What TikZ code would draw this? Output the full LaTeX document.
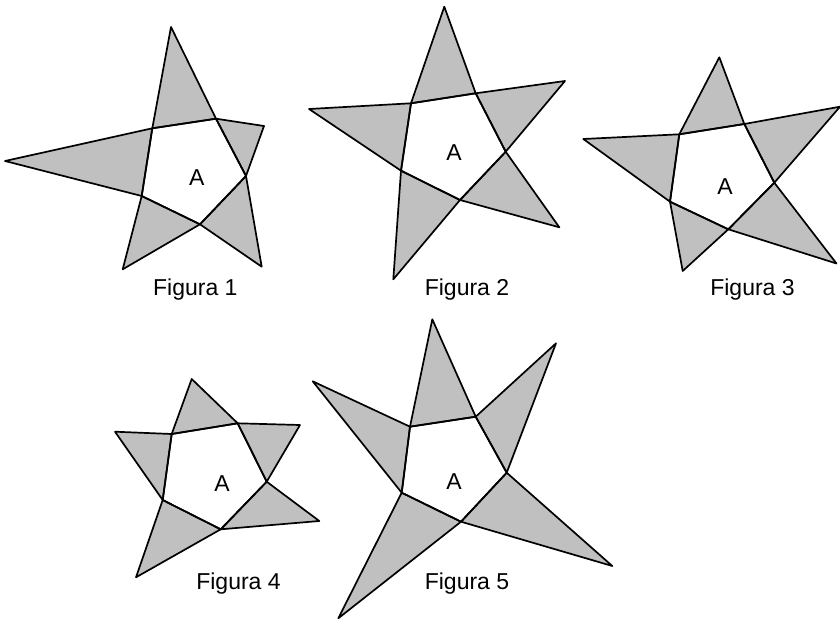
\documentclass[tikz,border=0pt]{standalone}
\usepackage{fontspec}
\setmainfont{Liberation Sans}
\definecolor{shadefill}{RGB}{192,192,192}
\tikzset{
  tri/.style={fill=shadefill, draw=black, line width=1.7pt, line join=round},
  pent/.style={draw=black, line width=1.7pt, line join=round},
  lbl/.style={inner sep=0pt, font=\fontsize{23}{27}\selectfont},
  figcaption/.style={inner sep=0pt, anchor=base, font=\fontsize{23}{27}\selectfont}
}
\newcommand\drawpentastar[1]{%
  \draw[tri] (#1T) -- (#1pa) -- (#1pb) -- cycle;
  \draw[tri] (#1R) -- (#1pb) -- (#1pc) -- cycle;
  \draw[tri] (#1D) -- (#1pc) -- (#1pd) -- cycle;
  \draw[tri] (#1E) -- (#1pd) -- (#1pe) -- cycle;
  \draw[tri] (#1L) -- (#1pe) -- (#1pa) -- cycle;
  \draw[pent] (#1pa) -- (#1pb) -- (#1pc) -- (#1pd) -- (#1pe) -- cycle;
}
\begin{document}
\begin{tikzpicture}[x=1pt,y=-1pt]
\useasboundingbox (0,0) rectangle (840,621);
% Figura 1
\coordinate (aT) at (171,27);
\coordinate (aR) at (264,126);
\coordinate (aD) at (261.7,266.7);
\coordinate (aE) at (122.7,269.3);
\coordinate (aL) at (5,161);
\coordinate (apa) at (152.3,128.3);
\coordinate (apb) at (216,118.7);
\coordinate (apc) at (246,176);
\coordinate (apd) at (200,224.3);
\coordinate (ape) at (141.7,196);
\drawpentastar{a}
\node[lbl] (aA) at (196.7,177.3) {A};
\node[figcaption] (acap) at (195.3,295) {Figura 1};
% Figura 2
\coordinate (bT) at (444.3,6.7);
\coordinate (bR) at (565,81);
\coordinate (bD) at (559.3,227.3);
\coordinate (bE) at (393.3,279.3);
\coordinate (bL) at (309,109);
\coordinate (bpa) at (411,103.3);
\coordinate (bpb) at (475.7,93.3);
\coordinate (bpc) at (505.7,151.7);
\coordinate (bpd) at (460,200);
\coordinate (bpe) at (401,170.7);
\drawpentastar{b}
\node[lbl] (bA) at (454,153) {A};
\node[figcaption] (bcap) at (467,295) {Figura 2};
% Figura 3
\coordinate (cT) at (719.3,57.3);
\coordinate (cR) at (840,106.7);
\coordinate (cD) at (836.5,263.5);
\coordinate (cE) at (682.7,271);
\coordinate (cL) at (583.3,139);
\coordinate (cpa) at (679.3,134.3);
\coordinate (cpb) at (744.3,124);
\coordinate (cpc) at (774.3,182.7);
\coordinate (cpd) at (728.3,229.3);
\coordinate (cpe) at (670,201.7);
\drawpentastar{c}
\node[lbl] (cA) at (725,186.7) {A};
\node[figcaption] (ccap) at (752.5,295) {Figura 3};
% Figura 4
\coordinate (dT) at (191.7,379);
\coordinate (dR) at (300,425);
\coordinate (dD) at (319.3,521);
\coordinate (dE) at (136,577.3);
\coordinate (dL) at (115,431.7);
\coordinate (dpa) at (171.7,434);
\coordinate (dpb) at (237.7,423.3);
\coordinate (dpc) at (266.7,481.7);
\coordinate (dpd) at (220.7,529.3);
\coordinate (dpe) at (162.7,500);
\drawpentastar{d}
\node[lbl] (dA) at (222,483.5) {A};
\node[figcaption] (dcap) at (238.5,589.5) {Figura 4};
% Figura 5
\coordinate (eT) at (432.3,319.3);
\coordinate (eR) at (556,343.3);
\coordinate (eD) at (612.3,566);
\coordinate (eE) at (338.3,618.3);
\coordinate (eL) at (312.7,381.3);
\coordinate (epa) at (410,426.7);
\coordinate (epb) at (475.7,416.7);
\coordinate (epc) at (506.7,472.7);
\coordinate (epd) at (461,521.7);
\coordinate (epe) at (401.7,492.7);
\drawpentastar{e}
\node[lbl] (eA) at (454,482) {A};
\node[figcaption] (ecap) at (467,589.5) {Figura 5};
\end{tikzpicture}
\end{document}
